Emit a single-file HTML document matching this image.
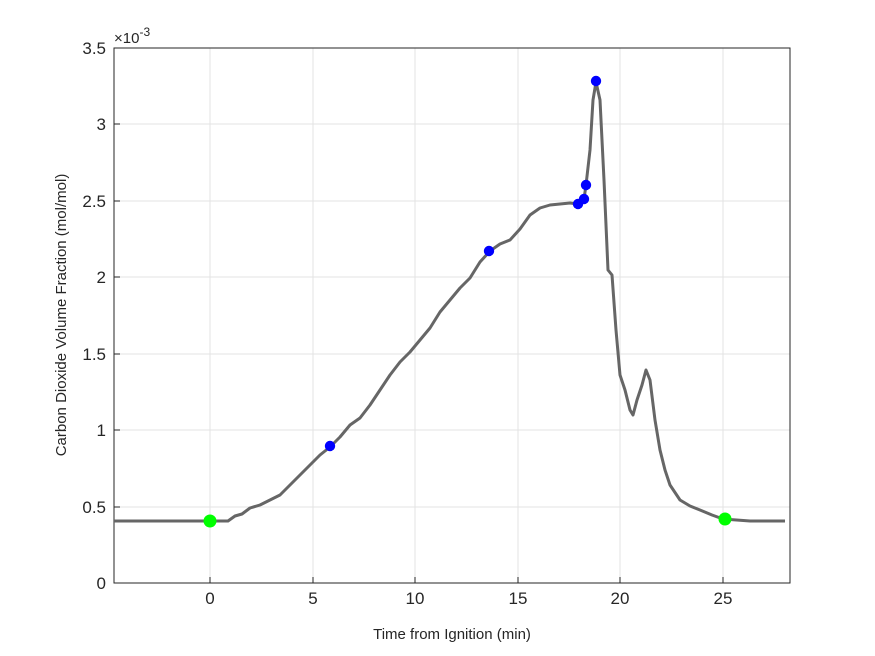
<!DOCTYPE html>
<html><head><style>body{margin:0;background:#fff}svg{display:block;font-family:"Liberation Sans",sans-serif}</style></head><body>
<svg width="875" height="656" viewBox="0 0 875 656">
<rect width="875" height="656" fill="#fff"/>
<g stroke="#e3e3e3" stroke-width="1">
<line x1="210" y1="48" x2="210" y2="583"/><line x1="313" y1="48" x2="313" y2="583"/><line x1="415" y1="48" x2="415" y2="583"/><line x1="518" y1="48" x2="518" y2="583"/><line x1="620" y1="48" x2="620" y2="583"/><line x1="723" y1="48" x2="723" y2="583"/>
<line x1="114" y1="507" x2="790" y2="507"/><line x1="114" y1="430" x2="790" y2="430"/><line x1="114" y1="354" x2="790" y2="354"/><line x1="114" y1="277" x2="790" y2="277"/><line x1="114" y1="201" x2="790" y2="201"/><line x1="114" y1="124" x2="790" y2="124"/>
</g>
<rect x="114" y="48" width="676" height="535" fill="none" stroke="#262626" stroke-width="1"/>
<g stroke="#262626">
<line x1="210" y1="583" x2="210" y2="577"/><line x1="313" y1="583" x2="313" y2="577"/><line x1="415" y1="583" x2="415" y2="577"/><line x1="518" y1="583" x2="518" y2="577"/><line x1="620" y1="583" x2="620" y2="577"/><line x1="723" y1="583" x2="723" y2="577"/>
<line x1="114" y1="507" x2="120" y2="507"/><line x1="114" y1="430" x2="120" y2="430"/><line x1="114" y1="354" x2="120" y2="354"/><line x1="114" y1="277" x2="120" y2="277"/><line x1="114" y1="201" x2="120" y2="201"/><line x1="114" y1="124" x2="120" y2="124"/>
</g>
<g font-size="17" fill="#262626" text-anchor="middle">
<text x="210" y="604">0</text><text x="313" y="604">5</text><text x="415" y="604">10</text><text x="518" y="604">15</text><text x="620" y="604">20</text><text x="723" y="604">25</text>
</g>
<g font-size="17" fill="#262626" text-anchor="end">
<text x="106" y="589">0</text><text x="106" y="513">0.5</text><text x="106" y="436">1</text><text x="106" y="360">1.5</text><text x="106" y="283">2</text><text x="106" y="207">2.5</text><text x="106" y="130">3</text><text x="106" y="54">3.5</text>
</g>
<text x="114" y="43" font-size="15" fill="#262626">×10<tspan dy="-7" font-size="12">-3</tspan></text>
<text x="452" y="639" font-size="15" fill="#262626" text-anchor="middle">Time from Ignition (min)</text>
<text transform="translate(66,315) rotate(-90)" font-size="15" fill="#262626" text-anchor="middle">Carbon Dioxide Volume Fraction (mol/mol)</text>
<polyline fill="none" stroke="#666" stroke-width="3" stroke-linejoin="round" points="114,521 228,521 235,516 242,514 250,508 260,505 270,500 280,495 290,485 300,475 310,465 320,455 330,447 340,437 350,425 360,418 370,405 380,390 390,375 400,362 410,352 420,340 430,328 440,312 450,300 460,288 470,278 480,262 490,251 500,244 510,240 520,229 530,215 540,208 550,205 560,204 570,203 578,204 584,199 586,185 590,150 593,100 596,82 600,100 604,180 608,270 612,275 616,330 620,375 625,390 630,410 633,415 637,400 642,385 646,370 650,380 655,420 660,450 665,470 670,485 680,500 690,506 700,510 712,515 723,519 750,521 785,521"/>
<g fill="#0000ff">
<circle cx="330" cy="446" r="5.2"/><circle cx="489" cy="251" r="5.2"/><circle cx="578" cy="204" r="5.2"/><circle cx="584" cy="199" r="5.2"/><circle cx="586" cy="185" r="5.2"/><circle cx="596" cy="81" r="5.2"/>
</g>
<g fill="#00ff00"><circle cx="210" cy="521" r="6.5"/><circle cx="725" cy="519" r="6.5"/></g>
</svg>
</body></html>
